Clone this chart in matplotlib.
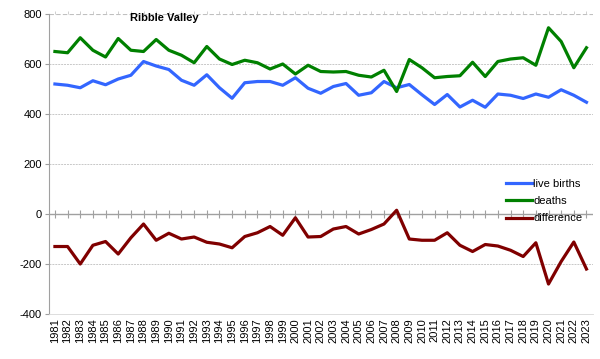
import matplotlib
matplotlib.use("Agg")
import matplotlib.pyplot as plt

plt.rcParams['font.family'] = ['Liberation Sans', 'DejaVu Sans']

years = list(range(1981, 2024))
live_births = [520, 515, 505, 533, 517, 540, 555, 610, 592, 578,
               535, 515, 557, 505, 463, 525, 530, 530, 515, 545,
               503, 483, 510, 522, 475, 485, 530, 505, 518, 477,
               438, 478, 428, 455, 427, 480, 475, 462, 480, 467,
               497, 475, 447]
deaths = [650, 645, 705, 655, 628, 702, 655, 650, 698, 655,
          635, 605, 670, 620, 598, 615, 605, 580, 600, 560,
          595, 570, 568, 570, 555, 548, 575, 490, 618, 585,
          545, 550, 553, 607, 550, 610, 620, 625, 595, 745,
          690, 585, 665]
difference = [-130, -130, -200, -125, -110, -160, -95, -40, -105, -77,
              -100, -92, -113, -120, -135, -90, -75, -50, -85, -15,
              -92, -90, -60, -50, -80, -62, -40, 15, -100, -105,
              -105, -75, -125, -150, -122, -128, -145, -170, -115, -280,
              -190, -112, -220]
yticks = [-400, -200, 0, 200, 400, 600, 800]
title = "Ribble Valley"

fig = plt.figure(figsize=(6.0, 3.59), dpi=100)
ax = fig.add_axes([0.081, 0.1253, 0.907, 0.8357])

for y in yticks:
    if y in (0, 800):
        continue
    ax.axhline(y, color='#c8c8c8', lw=0.7, ls=(0, (2, 1)), zorder=0)
ax.axhline(800, color='#c0c0c0', lw=0.8, ls=(0, (4, 2)), zorder=0)
ax.axhline(0, color='#a0a0a0', lw=1.0, zorder=1)

ax.plot(years, live_births, color='#3366ff', lw=2.3, label='live births', zorder=3)
ax.plot(years, deaths, color='#008000', lw=2.3, label='deaths', zorder=3)
ax.plot(years, difference, color='#800000', lw=2.3, label='difference', zorder=3)

ax.set_xlim(1980.5, 2023.5)
ax.set_ylim(-400, 800)
ax.set_yticks(yticks)
ax.set_yticklabels([str(v) for v in yticks], fontsize=8)
ax.set_xticks(years)
ax.set_xticklabels([str(y) for y in years], rotation=90, fontsize=8)
ax.tick_params(axis='x', length=0, pad=3)
ax.tick_params(axis='y', length=3, color='#a0a0a0', pad=2)

for s in ['top', 'right']:
    ax.spines[s].set_visible(False)
ax.spines['left'].set_color('#a0a0a0')
ax.spines['bottom'].set_color('#d8d8d8')
ax.spines['bottom'].set_linewidth(0.6)

sec = ax.secondary_xaxis(1 / 3)
sec.set_xticks(years)
sec.set_xticklabels([])
sec.tick_params(direction='inout', length=6, color='#a0a0a0', width=0.8)
sec.spines['bottom'].set_visible(False)
sec.spines['top'].set_visible(False)

sec2 = ax.secondary_xaxis(1.0)
sec2.set_xticks(years)
sec2.set_xticklabels([])
sec2.tick_params(direction='out', length=2, color='#c8c8c8', width=0.6)
for s in sec2.spines.values():
    s.set_visible(False)

ax.text(0.212, 0.988, title, transform=ax.transAxes, fontsize=8,
        fontweight='bold', ha='center', va='center')

leg = ax.legend(loc='upper left', bbox_to_anchor=(0.833, 0.465), frameon=False,
                fontsize=8, handlelength=2.3, handletextpad=0.1,
                labelspacing=0.65, borderaxespad=0)

fig.savefig('out.png', dpi=100, facecolor='white')
